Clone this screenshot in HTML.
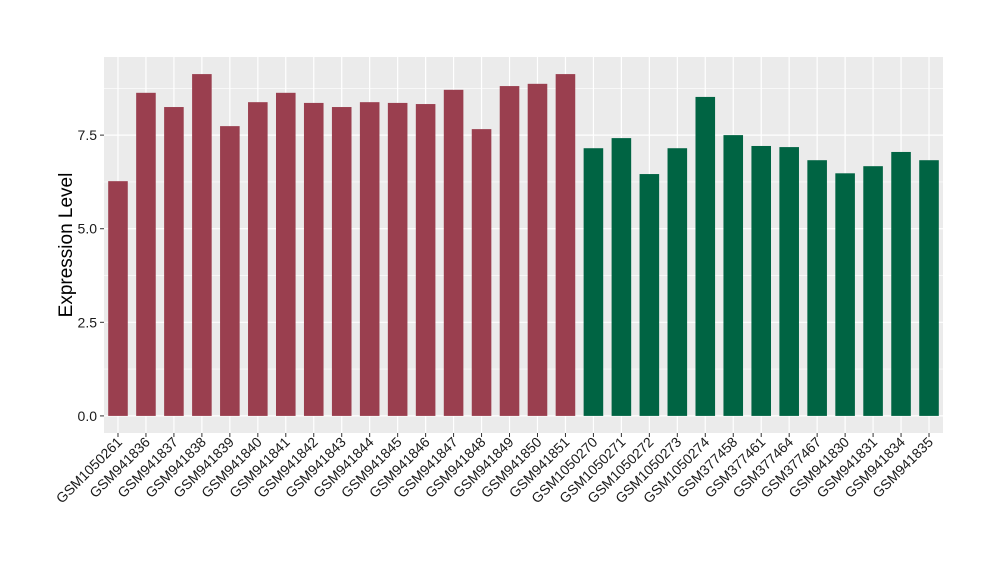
<!DOCTYPE html>
<html><head><meta charset="utf-8"><style>body{margin:0;background:#fff}svg{display:block;font-family:"Liberation Sans",sans-serif}</style></head>
<body>
<svg id="chart" width="1000" height="580" viewBox="0 0 1000 580"></svg>
<script>
const categories = ["GSM1050261","GSM941836","GSM941837","GSM941838","GSM941839","GSM941840","GSM941841","GSM941842","GSM941843","GSM941844","GSM941845","GSM941846","GSM941847","GSM941848","GSM941849","GSM941850","GSM941851","GSM1050270","GSM1050271","GSM1050272","GSM1050273","GSM1050274","GSM377458","GSM377461","GSM377464","GSM377467","GSM941830","GSM941831","GSM941834","GSM941835"];
const values = [6.27,8.63,8.25,9.13,7.74,8.38,8.63,8.36,8.25,8.38,8.36,8.33,8.71,7.66,8.81,8.87,9.13,7.15,7.42,6.46,7.15,8.52,7.50,7.21,7.18,6.83,6.48,6.67,7.05,6.83];
const groups = [0,0,0,0,0,0,0,0,0,0,0,0,0,0,0,0,0,1,1,1,1,1,1,1,1,1,1,1,1,1];
const yTicks = [0,2.5,5,7.5];
const yTickLabels = ["0.0","2.5","5.0","7.5"];

const svg = document.getElementById('chart');
const NS = 'http://www.w3.org/2000/svg';
const L=104, R=943, T=57, B=433;
const maxV = Math.max(...values);
const yMin = -0.05*maxV, yMax = maxV*1.05;
const y = v => B - (v - yMin)/(yMax - yMin)*(B - T);
const step = (R-L)/categories.length;
const x = i => L + step*(i+0.5);
const colors = ["#9A3F4F","#006443"];
function mk(tag, attrs, parent){const e=document.createElementNS(NS,tag);for(const k in attrs)e.setAttribute(k,attrs[k]);(parent||svg).appendChild(e);return e;}

const panel = mk('rect',{x:L,y:T,width:R-L,height:B-T,fill:'#EBEBEB'});


for(let k=0;k<yTicks.length;k++){
  const v=yTicks[k]+1.25;
  if(v<yMax){const g=mk('line',{x1:L,x2:R,y1:y(v),y2:y(v),stroke:'#fff','stroke-width':0.6});
  
  }
}
yTicks.forEach((v,k)=>{
  const g=mk('line',{x1:L,x2:R,y1:y(v),y2:y(v),stroke:'#fff','stroke-width':1.2});
  
  
  mk('line',{x1:L-4,x2:L,y1:y(v),y2:y(v),stroke:'#333','stroke-width':1});
  const t=mk('text',{x:L-7,y:y(v)+5,'text-anchor':'end','font-size':14,fill:'#1a1a1a'});
  t.textContent=yTickLabels[k];
  
  
});
categories.forEach((c,i)=>{
  const g=mk('line',{x1:x(i),x2:x(i),y1:T,y2:B,stroke:'#fff','stroke-width':1.2});
  
  
});
categories.forEach((c,i)=>{
  const bw=step*0.7;
  const b=mk('rect',{x:x(i)-bw/2,y:y(values[i]),width:bw,height:y(0)-y(values[i]),fill:colors[groups[i]]});
  
  
  mk('line',{x1:x(i),x2:x(i),y1:B,y2:B+4,stroke:'#333','stroke-width':1});
  const t=mk('text',{x:x(i)+5,y:B+10,'text-anchor':'end','font-size':14,fill:'#1a1a1a',transform:`rotate(-45 ${x(i)+5} ${B+10})`});
  t.textContent=c;
  
  
});
const yt=mk('text',{x:72,y:(T+B)/2,'text-anchor':'middle','font-size':19,fill:'#000',transform:`rotate(-90 72 ${(T+B)/2})`});
yt.textContent='Expression Level';


</script>
</body></html>
